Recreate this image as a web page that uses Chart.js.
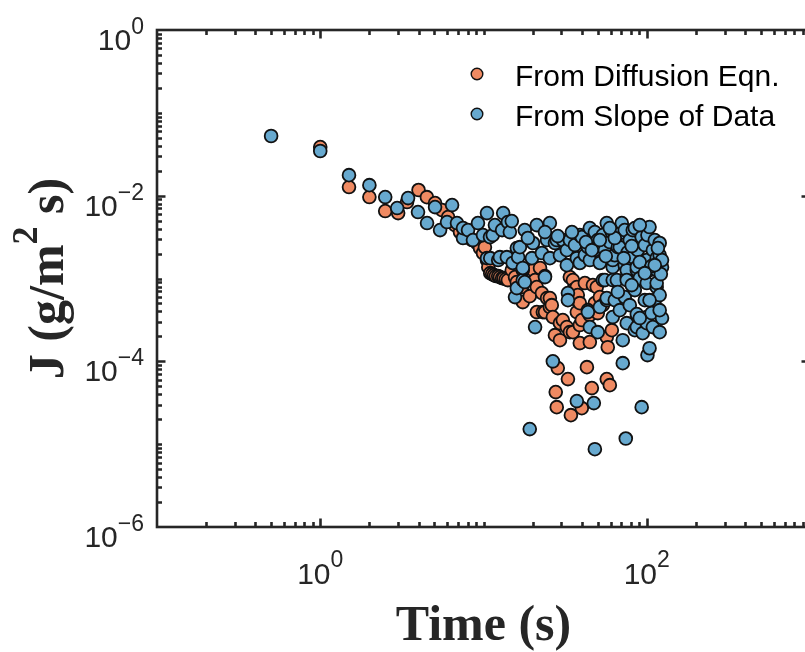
<!DOCTYPE html>
<html>
<head>
<meta charset="utf-8">
<script src="https://cdn.jsdelivr.net/npm/chart.js@4.4.1/dist/chart.umd.min.js"></script>
<style>
  html, body { margin: 0; padding: 0; background: #fff; overflow: hidden; }
  #wrap { width: 805px; height: 652px; overflow: hidden; }
  canvas { display: block; }
</style>
</head>
<body>
<div id="wrap"><canvas id="chart" width="820" height="652"></canvas></div>
<script>
// values (time in s, J in g/m^2 s)
const seriesLabels = ['From Diffusion Eqn.', 'From Slope of Data'];

const diffusionTime = [
  1.0, 1.5, 2.0, 2.5, 3.0, 3.4, 4.0, 4.5, 5.05, 5.57,
  6.07, 6.69, 7.18, 7.82, 8.51, 9.12, 9.52, 9.93, 10.2, 10.5,
  10.7, 11.0, 11.3, 11.6, 11.9, 12.3, 12.6, 13.0, 13.3, 13.7,
  14.1, 14.9, 15.6, 16.0, 17.2, 17.4, 19.2, 20.1, 20.7, 21.2,
  21.2, 22.2, 22.8, 23.1, 23.8, 23.8, 24.5, 25.5, 25.5, 26.2,
  26.6, 27.4, 27.7, 28.1, 28.5, 29.4, 29.4, 30.6, 32.4, 32.9,
  33.8, 33.8, 34.3, 35.3, 35.3, 35.3, 37.3, 37.3, 37.3, 37.8,
  38.9, 38.9, 38.9, 40.0, 40.0, 41.8, 43.0, 44.8, 44.8, 46.1,
  46.8, 48.1, 49.4, 50.1, 51.6, 53.8, 56.9, 56.9, 57.7, 59.4,
  61.1
];
const diffusionJ = [
  3.86e-2, 1.27e-2, 9.62e-3, 6.52e-3, 6.16e-3, 8.37e-3, 1.17e-2, 9.6e-3, 8.14e-3, 6.70e-3,
  5.52e-3, 4.41e-3, 3.63e-3, 3.16e-3, 2.91e-3, 2.68e-3, 2.33e-3, 2.03e-3, 2.39e-3, 1.67e-3,
  1.37e-3, 1.16e-3, 1.13e-3, 1.10e-3, 1.07e-3, 1.07e-3, 1.04e-3, 1.01e-3, 1.01e-3, 9.84e-4,
  9.56e-4, 1.26e-3, 1.04e-3, 9.05e-4, 7.87e-4, 5.19e-4, 6.12e-4, 1.26e-3, 9.56e-4, 7.87e-4,
  3.93e-4, 1.34e-3, 6.67e-4, 3.93e-4, 3.93e-4, 1.07e-3, 5.80e-4, 4.52e-4, 5.80e-4, 4.77e-4,
  3.42e-4, 2.07e-4, 4.25e-5, 2.80e-5, 8.28e-5, 2.89e-4, 1.80e-4, 3.15e-4, 2.59e-4, 6.10e-5,
  2.25e-4, 1.04e-3, 2.24e-5, 2.25e-4, 9.56e-4, 7.24e-4, 7.87e-4, 3.93e-4, 5.48e-4, 6.30e-4,
  1.66e-4, 5.04e-4, 2.74e-4, 3.15e-4, 2.72e-5, 8.81e-4, 8.51e-5, 1.71e-4, 3.61e-4, 4.75e-5,
  8.32e-4, 5.04e-4, 7.87e-4, 3.82e-4, 5.96e-4, 4.77e-4, 1.96e-4, 6.10e-5, 1.48e-4, 5.16e-5,
  2.38e-4
];

const slopeTime = [
  0.5, 1.0, 1.5, 2.0, 2.5, 2.96, 3.45, 3.97, 4.51, 5.05,
  5.42, 5.98, 6.42, 6.88, 7.49, 7.49, 8.04, 8.62, 9.25, 9.93,
  10.5, 10.5, 10.96, 11.0, 11.4, 11.75, 12.3, 12.6, 13.0, 13.2,
  13.9, 14.1, 14.5, 14.9, 15.1, 15.6, 16.0, 16.0, 16.3, 16.7,
  17.4, 17.4, 17.4, 17.9, 17.9, 19.2, 19.8, 20.1, 20.7, 21.2,
  22.8, 23.8, 24.5, 25.5, 25.5, 26.6, 27.4, 28.1, 29.4, 30.6,
  32.4, 32.4, 32.9, 32.9, 33.8, 36.3, 37.3, 37.3, 38.9, 38.9,
  40.0, 41.8, 43.6, 43.6, 43.6, 44.8, 44.8, 44.8, 47.4, 48.1,
  48.1, 48.1, 50.1, 50.1, 51.6, 51.6, 53.8, 53.8, 55.4, 55.4,
  56.9, 56.9, 56.9, 59.4, 61.1, 61.9, 61.9, 61.9, 61.9, 63.7,
  63.7, 65.6, 66.5, 68.4, 68.4, 68.4, 70.3, 71.3, 71.3, 73.3,
  73.3, 73.3, 74.4, 75.4, 75.4, 75.4, 75.4, 76.5, 78.7, 78.7,
  82.1, 82.1, 84.5, 84.5, 84.5, 86.9, 86.9, 86.9, 86.9, 88.1,
  90.6, 93.1, 93.1, 94.5, 94.5, 97.3, 97.3, 100, 100, 100,
  100, 101, 101, 104, 104, 104, 107, 109, 109, 112,
  112, 115, 115, 115, 115, 120, 120, 120, 120, 124,
  124, 124, 18.7, 23.8, 28.5, 34.8, 42.4, 46.1, 51.6, 56.1,
  63.7, 72.3, 80.9, 90.6, 107, 117, 122, 97.3, 80.9, 66.5,
  104, 90.6, 120, 112, 59.4, 90.6
];
const slopeJ = [
  5.25e-2, 3.46e-2, 1.77e-2, 1.34e-2, 9.62e-3, 7.09e-3, 9.35e-3, 6.34e-3, 4.67e-3, 7.28e-3,
  3.84e-3, 4.80e-3, 7.70e-3, 4.67e-3, 3.08e-3, 4.06e-3, 3.84e-3, 2.91e-3, 4.67e-3, 3.34e-3,
  6.16e-3, 1.76e-3, 3.16e-3, 1.76e-3, 3.34e-3, 4.41e-3, 1.67e-3, 1.81e-3, 3.84e-3, 6.16e-3,
  1.81e-3, 4.80e-3, 3.63e-3, 4.93e-3, 1.54e-3, 5.96e-4, 2.33e-3, 7.66e-4, 1.81e-3, 2.39e-3,
  1.26e-3, 9.56e-4, 1.34e-3, 3.84e-3, 9.05e-4, 1.52e-5, 1.76e-3, 2.68e-3, 2.59e-4, 4.41e-3,
  2.03e-3, 1.04e-3, 2.91e-3, 4.67e-3, 1.76e-3, 1.00e-4, 2.68e-3, 2.91e-3, 1.91e-3, 2.91e-3,
  2.20e-3, 1.45e-3, 6.67e-4, 5.48e-4, 2.91e-3, 2.53e-3, 1.76e-3, 3.31e-5, 3.34e-3, 1.54e-3,
  3.16e-3, 1.91e-3, 2.39e-3, 4.15e-4, 3.93e-4, 4.06e-3, 1.67e-3, 2.59e-4, 3.13e-5, 3.63e-3,
  2.20e-3, 8.7e-6, 2.91e-3, 2.25e-4, 1.54e-3, 4.52e-4, 3.34e-3, 9.56e-4, 9.56e-4, 2.20e-3,
  4.67e-3, 5.48e-4, 5.80e-4, 2.75e-3, 3.63e-3, 1.37e-3, 1.67e-3, 9.56e-4, 3.42e-4, 1.91e-3,
  5.48e-4, 9.56e-4, 2.39e-3, 3.53e-3, 2.39e-3, 4.15e-4, 4.67e-3, 1.80e-4, 9.51e-5, 1.45e-3,
  5.96e-4, 3.84e-3, 1.17e-5, 1.04e-3, 1.26e-3, 9.56e-4, 2.89e-4, 2.07e-3, 2.91e-3, 4.77e-4,
  1.81e-3, 3.84e-3, 4.06e-3, 2.38e-4, 7.24e-4, 1.26e-3, 1.37e-3, 2.59e-4, 3.72e-4, 2.20e-3,
  1.01e-3, 3.16e-3, 2.80e-5, 1.54e-3, 2.19e-4, 2.53e-3, 5.48e-4, 8.81e-4, 1.67e-3, 3.42e-4,
  2.89e-4, 1.19e-4, 3.34e-3, 4.18e-3, 1.44e-4, 1.26e-3, 3.82e-4, 2.59e-4, 2.20e-3, 5.48e-4,
  2.91e-3, 1.76e-3, 7.87e-4, 1.26e-3, 8.81e-4, 2.68e-3, 2.25e-4, 1.91e-3, 6.30e-4, 1.37e-3,
  1.67e-3, 3.33e-4, 3.08e-3, 3.63e-3, 3.25e-3, 3.63e-3, 2.75e-3, 2.20e-3, 2.91e-3, 1.86e-3,
  3.08e-3, 1.76e-3, 2.46e-3, 1.58e-3, 1.41e-3, 2.33e-3, 1.13e-3, 1.16e-3, 8.32e-4, 6.88e-4,
  5.48e-4, 3.33e-4, 4.15e-4, 1.45e-3, 4.06e-3, 4.41e-3
];

// axis ranges and labelled decades
const xRange = [0.1, 1000];
const yRange = [1e-6, 1];
const xDecades = [-1, 0, 1, 2];
const yDecades = [-6, -5, -4, -3, -2, -1];
const xLabelExps = [0, 2];
const yLabelExps = [0, -2, -4, -6];
const xTitle = 'Time (s)';
const yTitleParts = ['J (g/m', '2', ' s)'];

const ORANGE = '#EF8A62';
const BLUE = '#67A9CF';
const INK = '#262626';
const SANS = '"Liberation Sans", Arial, Helvetica, sans-serif';
const SERIF = '"Liberation Serif", "Times New Roman", serif';

function toPoints(xs, ys){
  return xs.map((t, i) => ({ x: t, y: ys[i] }));
}

function expText(e){
  return e < 0 ? '\u2212' + Math.abs(e) : String(e);
}

function drawPow(ctx, e, x, base, supBase, align){
  ctx.font = '30px ' + SANS;
  const w1 = ctx.measureText('10').width;
  ctx.font = '23px ' + SANS;
  const s = expText(e);
  const w2 = ctx.measureText(s).width;
  let start = align === 'right' ? x - w1 - w2 : x - (w1 + w2) / 2;
  ctx.textAlign = 'left';
  ctx.font = '30px ' + SANS;
  ctx.fillText('10', start, base);
  ctx.font = '23px ' + SANS;
  ctx.fillText(s, start + w1, supBase);
}

const axesPlugin = {
  id: 'matlabAxes',
  afterDraw(chart){
    const { ctx, chartArea: a, scales } = chart;
    const xs = scales.x, ys = scales.y;
    ctx.save();
    ctx.strokeStyle = INK;
    ctx.fillStyle = INK;
    ctx.lineWidth = 2.6;
    ctx.lineCap = 'butt';

    // ticks, pointing inwards on all four sides
    ctx.beginPath();
    xDecades.forEach(d => {
      for (let m = 1; m <= 9; m++) {
        const v = m * Math.pow(10, d);
        if (v <= xRange[0] * 1.0001) continue;
        const len = (m === 1 && xLabelExps.includes(d)) ? 8.5 : 5;
        const px = Math.round(xs.getPixelForValue(v)) + 0.5;
        ctx.moveTo(px, a.bottom); ctx.lineTo(px, a.bottom - len);
        ctx.moveTo(px, a.top); ctx.lineTo(px, a.top + len);
      }
    });
    yDecades.forEach(d => {
      for (let m = 1; m <= 9; m++) {
        const v = m * Math.pow(10, d);
        if (v <= yRange[0] * 1.0001) continue;
        const len = (m === 1 && yLabelExps.includes(d)) ? 8.5 : 5;
        const py = Math.round(ys.getPixelForValue(v)) + 0.5;
        ctx.moveTo(a.left, py); ctx.lineTo(a.left + len, py);
        ctx.moveTo(a.right, py); ctx.lineTo(a.right - len, py);
      }
    });
    ctx.stroke();

    // box
    ctx.strokeRect(a.left, a.top, a.right - a.left, a.bottom - a.top);

    // tick labels
    ctx.textBaseline = 'alphabetic';
    xLabelExps.forEach(e => {
      const px = xs.getPixelForValue(Math.pow(10, e));
      drawPow(ctx, e, px, a.bottom + 57, a.bottom + 40, 'center');
    });
    yLabelExps.forEach(e => {
      const py = ys.getPixelForValue(Math.pow(10, e));
      drawPow(ctx, e, a.left - 13, py + 20, py + 4, 'right');
    });

    // axis titles
    ctx.font = 'bold 50px ' + SERIF;
    ctx.textAlign = 'center';
    ctx.fillText(xTitle, (a.left + a.right) / 2, 640);

    ctx.save();
    ctx.translate(63, (a.top + a.bottom) / 2);
    ctx.rotate(-Math.PI / 2);
    ctx.textAlign = 'left';
    ctx.font = 'bold 50px ' + SERIF;
    const p0 = ctx.measureText(yTitleParts[0]).width;
    const p2 = ctx.measureText(yTitleParts[2]).width;
    ctx.font = 'bold 36px ' + SERIF;
    const p1 = ctx.measureText(yTitleParts[1]).width;
    let sx = -(p0 + p1 + p2) / 2;
    ctx.font = 'bold 50px ' + SERIF;
    ctx.fillText(yTitleParts[0], sx, 0);
    ctx.font = 'bold 36px ' + SERIF;
    ctx.fillText(yTitleParts[1], sx + p0, -26);
    ctx.font = 'bold 50px ' + SERIF;
    ctx.fillText(yTitleParts[2], sx + p0 + p1, 0);
    ctx.restore();

    // legend
    const colors = [ORANGE, BLUE];
    const rows = [74, 114];
    ctx.font = '30px ' + SANS;
    ctx.textAlign = 'left';
    seriesLabels.forEach((lab, i) => {
      ctx.beginPath();
      ctx.arc(477, rows[i], 5.8, 0, Math.PI * 2);
      ctx.fillStyle = colors[i];
      ctx.fill();
      ctx.lineWidth = 1.4;
      ctx.strokeStyle = '#111';
      ctx.stroke();
      ctx.fillStyle = '#000';
      ctx.fillText(lab, 515, rows[i] + 12);
    });
    ctx.restore();
  }
};

new Chart(document.getElementById('chart'), {
  type: 'scatter',
  data: {
    datasets: [
      {
        label: seriesLabels[0],
        data: toPoints(diffusionTime, diffusionJ),
        pointBackgroundColor: ORANGE,
        pointBorderColor: '#111',
        pointBorderWidth: 1.8,
        pointRadius: 6.4,
        order: 1
      },
      {
        label: seriesLabels[1],
        data: toPoints(slopeTime, slopeJ),
        pointBackgroundColor: BLUE,
        pointBorderColor: '#111',
        pointBorderWidth: 1.8,
        pointRadius: 6.4,
        order: 0
      }
    ]
  },
  options: {
    responsive: false,
    animation: false,
    devicePixelRatio: 1,
    events: [],
    layout: { padding: { left: 157, top: 30, right: 10, bottom: 125 } },
    plugins: { legend: { display: false }, tooltip: { enabled: false } },
    scales: {
      x: { type: 'logarithmic', min: xRange[0], max: xRange[1], display: false },
      y: { type: 'logarithmic', min: yRange[0], max: yRange[1], display: false }
    }
  },
  plugins: [axesPlugin]
});
</script>
</body>
</html>
